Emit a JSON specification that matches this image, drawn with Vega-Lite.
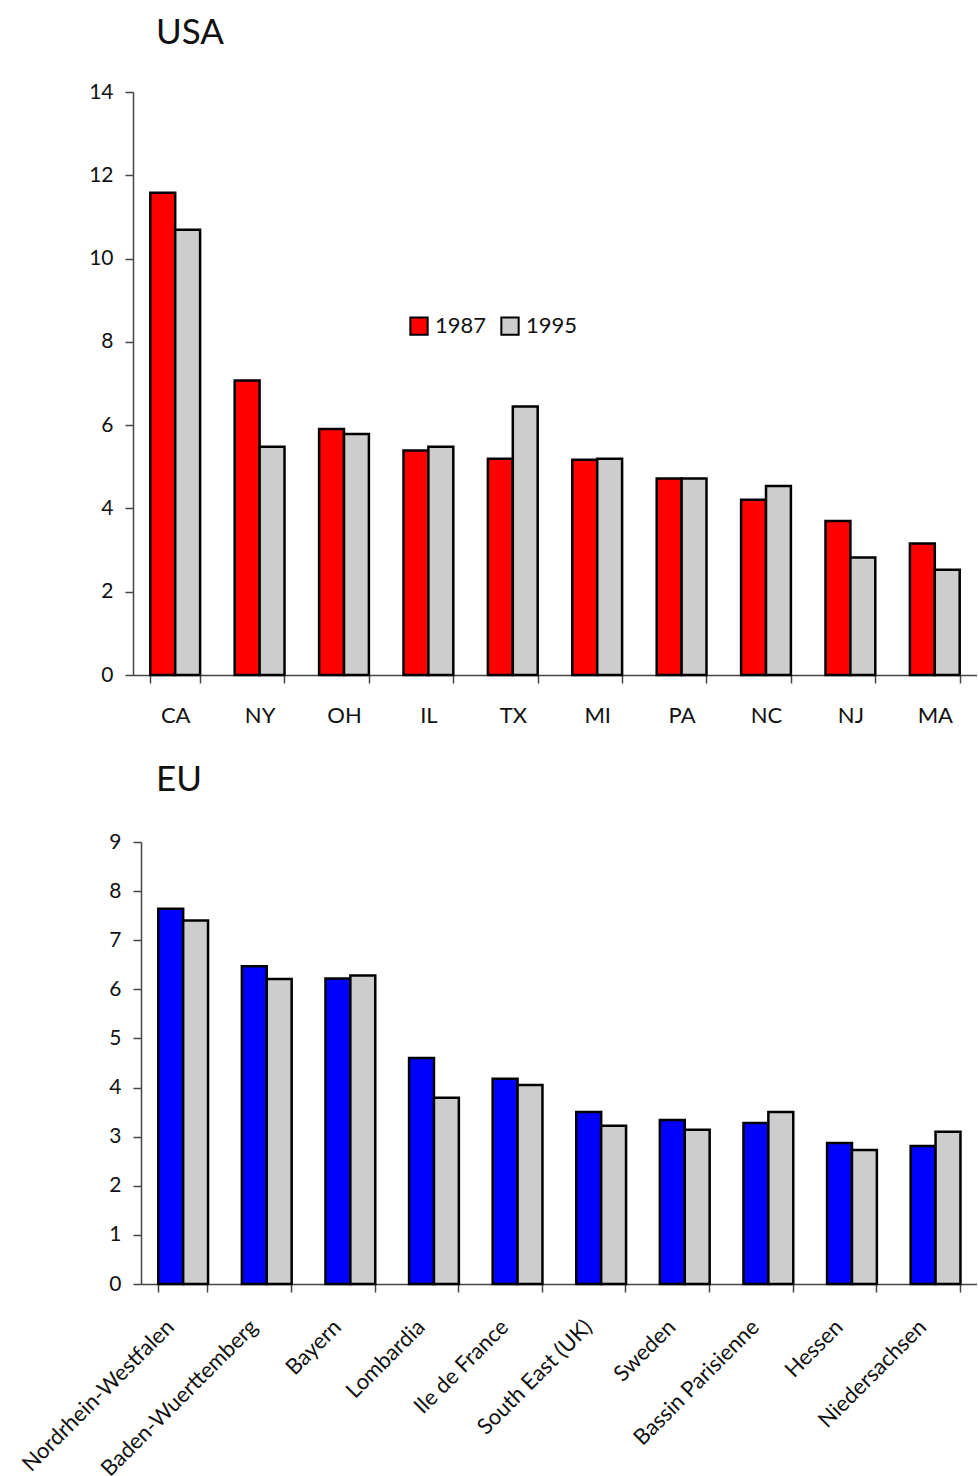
{
  "$schema": "https://vega.github.io/schema/vega-lite/v6.json",
  "background": "white",
  "padding": {"left": 17, "top": 16, "right": 0, "bottom": 0},
  "spacing": 37,
  "datasets": {
    "usa": [
      {"state": "CA", "year": "1987", "value": 11.58},
      {"state": "CA", "year": "1995", "value": 10.69},
      {"state": "NY", "year": "1987", "value": 7.07},
      {"state": "NY", "year": "1995", "value": 5.48},
      {"state": "OH", "year": "1987", "value": 5.91},
      {"state": "OH", "year": "1995", "value": 5.79},
      {"state": "IL", "year": "1987", "value": 5.39},
      {"state": "IL", "year": "1995", "value": 5.48},
      {"state": "TX", "year": "1987", "value": 5.19},
      {"state": "TX", "year": "1995", "value": 6.45},
      {"state": "MI", "year": "1987", "value": 5.17},
      {"state": "MI", "year": "1995", "value": 5.19},
      {"state": "PA", "year": "1987", "value": 4.72},
      {"state": "PA", "year": "1995", "value": 4.72},
      {"state": "NC", "year": "1987", "value": 4.21},
      {"state": "NC", "year": "1995", "value": 4.54},
      {"state": "NJ", "year": "1987", "value": 3.70},
      {"state": "NJ", "year": "1995", "value": 2.82},
      {"state": "MA", "year": "1987", "value": 3.16},
      {"state": "MA", "year": "1995", "value": 2.53}
    ],
    "eu": [
      {"region": "Nordrhein-Westfalen", "year": "1987", "value": 7.64},
      {"region": "Nordrhein-Westfalen", "year": "1995", "value": 7.40},
      {"region": "Baden-Wuerttemberg", "year": "1987", "value": 6.47},
      {"region": "Baden-Wuerttemberg", "year": "1995", "value": 6.21},
      {"region": "Bayern", "year": "1987", "value": 6.22},
      {"region": "Bayern", "year": "1995", "value": 6.28},
      {"region": "Lombardia", "year": "1987", "value": 4.60},
      {"region": "Lombardia", "year": "1995", "value": 3.79},
      {"region": "Ile de France", "year": "1987", "value": 4.18},
      {"region": "Ile de France", "year": "1995", "value": 4.05},
      {"region": "South East (UK)", "year": "1987", "value": 3.50},
      {"region": "South East (UK)", "year": "1995", "value": 3.22},
      {"region": "Sweden", "year": "1987", "value": 3.34},
      {"region": "Sweden", "year": "1995", "value": 3.14},
      {"region": "Bassin Parisienne", "year": "1987", "value": 3.28},
      {"region": "Bassin Parisienne", "year": "1995", "value": 3.50},
      {"region": "Hessen", "year": "1987", "value": 2.87},
      {"region": "Hessen", "year": "1995", "value": 2.73},
      {"region": "Niedersachsen", "year": "1987", "value": 2.81},
      {"region": "Niedersachsen", "year": "1995", "value": 3.10}
    ]
  },
  "vconcat": [
    {
      "title": {"text": "USA", "anchor": "start", "frame": "group", "dx": 23, "offset": 30, "fontSize": 35, "font": "Lato", "fontWeight": "normal", "color": "#111"},
      "width": 844,
      "height": 583,
      "data": {"name": "usa"},
      "mark": {"type": "bar", "stroke": "black", "strokeWidth": 2.5},
      "encoding": {
        "x": {
          "field": "state", "type": "nominal",
          "sort": ["CA", "NY", "OH", "IL", "TX", "MI", "PA", "NC", "NJ", "MA"],
          "scale": {"paddingInner": 0.41, "paddingOuter": 0.205},
          "axis": {"title": null, "labelAngle": 0, "tickBand": "extent", "tickSize": 8, "labelPadding": 22, "labelFontSize": 22}
        },
        "xOffset": {"field": "year", "type": "nominal"},
        "y": {
          "field": "value", "type": "quantitative",
          "scale": {"domain": [0, 14], "nice": false},
          "axis": {"title": null, "values": [0, 2, 4, 6, 8, 10, 12, 14], "tickSize": 8, "labelPadding": 12, "labelFontSize": 21}
        },
        "color": {
          "field": "year", "type": "nominal",
          "scale": {"domain": ["1987", "1995"], "range": ["#ff0000", "#cdcdcd"]},
          "legend": {
            "orient": "none", "legendX": 275, "legendY": 223, "direction": "horizontal",
            "title": null, "symbolType": "square", "symbolSize": 300,
            "symbolStrokeColor": "black", "symbolStrokeWidth": 2, "symbolOpacity": 1,
            "labelFontSize": 22, "labelFont": "Lato", "labelColor": "#111", "labelOffset": 5, "columnPadding": 10, "padding": 0
          }
        }
      }
    },
    {
      "title": {"text": "EU", "anchor": "start", "frame": "group", "dx": 23, "offset": 33, "fontSize": 35, "font": "Lato", "fontWeight": "normal", "color": "#111"},
      "width": 844,
      "height": 442,
      "data": {"name": "eu"},
      "mark": {"type": "bar", "stroke": "black", "strokeWidth": 2.5},
      "encoding": {
        "x": {
          "field": "region", "type": "nominal",
          "sort": ["Nordrhein-Westfalen", "Baden-Wuerttemberg", "Bayern", "Lombardia", "Ile de France", "South East (UK)", "Sweden", "Bassin Parisienne", "Hessen", "Niedersachsen"],
          "scale": {"range": [8, 844], "paddingInner": 0.413, "paddingOuter": 0.2065},
          "axis": {"title": null, "labelAngle": -45, "tickBand": "extent", "tickSize": 8, "labelPadding": 24, "labelFontSize": 22, "labelLimit": 0, "labelOffset": -20}
        },
        "xOffset": {"field": "year", "type": "nominal"},
        "y": {
          "field": "value", "type": "quantitative",
          "scale": {"domain": [0, 9], "nice": false},
          "axis": {"title": null, "values": [0, 1, 2, 3, 4, 5, 6, 7, 8, 9], "tickSize": 8, "labelPadding": 12, "labelFontSize": 21, "offset": -8}
        },
        "color": {
          "field": "year", "type": "nominal",
          "scale": {"domain": ["1987", "1995"], "range": ["#0000ff", "#cdcdcd"]},
          "legend": null
        }
      }
    }
  ],
  "resolve": {"scale": {"color": "independent"}},
  "config": {
    "view": {"stroke": null},
    "font": "Lato",
    "axis": {"grid": false, "domainColor": "#444", "tickColor": "#444", "domainWidth": 1.5, "tickWidth": 1.5, "labelFont": "Lato", "labelColor": "#111"}
  }
}
